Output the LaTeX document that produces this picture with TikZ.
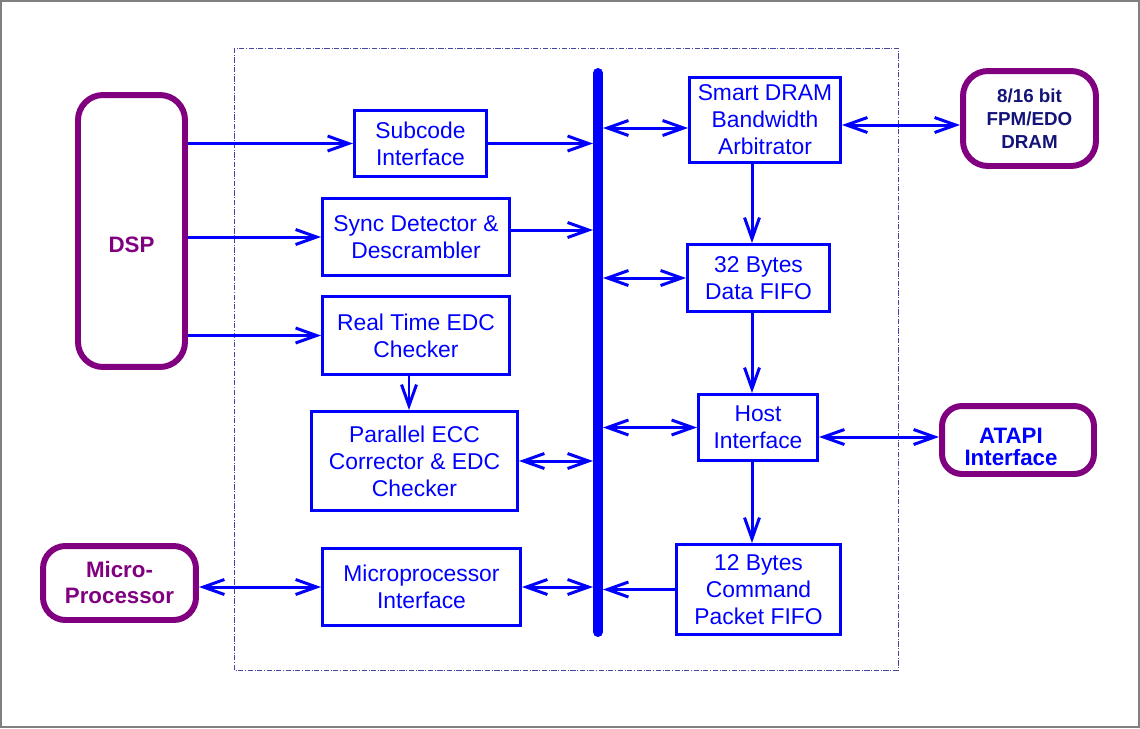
\documentclass[tikz,border=0pt]{standalone}
\usepackage{fontspec}
\setmainfont{Liberation Sans}
\usetikzlibrary{arrows.meta}
\definecolor{busblue}{RGB}{0,0,255}
\definecolor{extpurple}{RGB}{128,0,128}
\definecolor{dramnavy}{RGB}{20,20,120}
\definecolor{framenavy}{RGB}{70,70,160}
\tikzset{
  blk/.style={draw=busblue, line width=1.7pt, text=busblue, align=center, inner sep=0pt,
    font=\fontsize{13}{15.4}\selectfont},
  ext/.style={draw=extpurple, line width=3.4pt, rounded corners=0.5cm, align=center, inner sep=0pt,
    text=extpurple, font=\bfseries\fontsize{12.7}{14.8}\selectfont},
  extlbl/.style={align=center, font=\bfseries\fontsize{12.7}{12.6}\selectfont},
  uni/.style={draw=busblue, line width=1.7pt, -{Straight Barb[length=0.42cm,width=0.3cm]}},
  bidir/.style={uni, {Straight Barb[length=0.42cm,width=0.3cm]}-{Straight Barb[length=0.42cm,width=0.3cm]}},
  tobus/.style={shorten >=0.1cm},
  frombus/.style={shorten <=0.1cm},
  bus/.style={draw=busblue, line width=5.7pt, line cap=round}
}
\begin{document}
\begin{tikzpicture}[x=0.02cm, y=-0.02cm]
\useasboundingbox (0,0) rectangle (1140,728);
\draw[gray, line width=0.8pt] (1,1) rectangle (1139,727); %%outer frame
\draw[framenavy, densely dashdotted, line width=0.5pt] (234,48) rectangle (898,670); %%chip

%% left column
\node[blk, minimum width=2.64cm, minimum height=1.32cm] (sub) at (420.5,143.5) {Subcode\\Interface};
\node[blk, minimum width=3.74cm, minimum height=1.54cm] (sync) at (416,237) {Sync Detector \&\\Descrambler};
\node[blk, minimum width=3.74cm, minimum height=1.56cm] (edc) at (416,335.5) {Real Time EDC\\Checker};
\node[blk, minimum width=4.12cm, minimum height=1.98cm] (ecc) at (414.5,461) {Parallel ECC\\Corrector \& EDC\\Checker};
\node[blk, minimum width=3.96cm, minimum height=1.54cm] (mpi) at (421.5,587) {Microprocessor\\Interface};

%% right column
\node[blk, minimum width=3.02cm, minimum height=1.7cm] (arb) at (765,120) {Smart DRAM\\Bandwidth\\Arbitrator};
\node[blk, minimum width=2.84cm, minimum height=1.34cm] (dfifo) at (758.5,278) {32 Bytes\\Data FIFO};
\node[blk, minimum width=2.38cm, minimum height=1.32cm] (host) at (758,427.5) {Host\\Interface};
\node[blk, minimum width=3.28cm, minimum height=1.8cm] (cfifo) at (758.5,589.5) {12 Bytes\\Command\\Packet FIFO};

%% outside the chip
\node[ext, minimum width=2.14cm, minimum height=5.44cm,
  label={[extlbl, text=extpurple, yshift=-0.28cm]center:DSP}] (dsp) at (131.5,231) {};
\node[ext, rounded corners=0.45cm, minimum width=3.06cm, minimum height=1.48cm] (mp) at (119.5,583) {Micro-\\Processor};
\node[ext, text=dramnavy, font=\bfseries\fontsize{10.7}{13}\selectfont,
  minimum width=2.66cm, minimum height=1.9cm] (dram) at (1029.5,118.5) {8/16 bit\\FPM/EDO\\DRAM};
\node[ext, rounded corners=0.4cm, minimum width=3.04cm, minimum height=1.36cm,
  label={[extlbl, text=busblue, xshift=-0.14cm, yshift=-0.14cm]center:ATAPI\\Interface}] (atapi) at (1018,440) {};

%% bus
\coordinate (bustop) at (598,73);
\coordinate (busbot) at (598,632);
\draw[bus] (bustop) -- (busbot);

%% DSP side
\draw[uni] (dsp.east |- sub.west) -- (sub.west);
\draw[uni] (dsp.east |- sync.west) -- (sync.west);
\draw[uni] (dsp.east |- edc.west) -- (edc.west);
\coordinate (edcout) at ([xshift=-0.14cm]edc.south);
\draw[uni] (edcout) -- (edcout |- ecc.north);
\draw[bidir] (mp.east |- mpi.west) -- (mpi.west);

%% into the bus
\coordinate (syncout) at ([yshift=0.14cm]sync.east);
\draw[uni, tobus] (sub.east) -- (sub.east -| bustop);
\draw[uni, tobus] (syncout) -- (syncout -| bustop);
\draw[bidir, tobus] (ecc.east) -- (ecc.east -| bustop);
\draw[bidir, tobus] (mpi.east) -- (mpi.east -| bustop);

%% right of the bus
\coordinate (arbin) at ([yshift=-0.16cm]arb.west);
\draw[bidir, frombus] (arbin -| bustop) -- (arbin);
\draw[bidir, frombus] (dfifo.west -| bustop) -- (dfifo.west);
\draw[bidir, frombus] (host.west -| bustop) -- (host.west);
\draw[uni, tobus] (cfifo.west) -- (cfifo.west -| bustop);

%% down the right column
\coordinate (spine) at (752,0);
\draw[uni] (spine |- arb.south) -- (spine |- dfifo.north);
\draw[uni] (spine |- dfifo.south) -- (spine |- host.north);
\draw[uni] (spine |- host.south) -- (spine |- cfifo.north);

%% external links
\coordinate (dramin) at ([yshift=-0.13cm]dram.west);
\draw[bidir] (arb.east |- dramin) -- (dramin);
\coordinate (atapiin) at ([yshift=0.06cm]atapi.west);
\draw[bidir] (host.east |- atapiin) -- (atapiin);
\end{tikzpicture}
\end{document}
